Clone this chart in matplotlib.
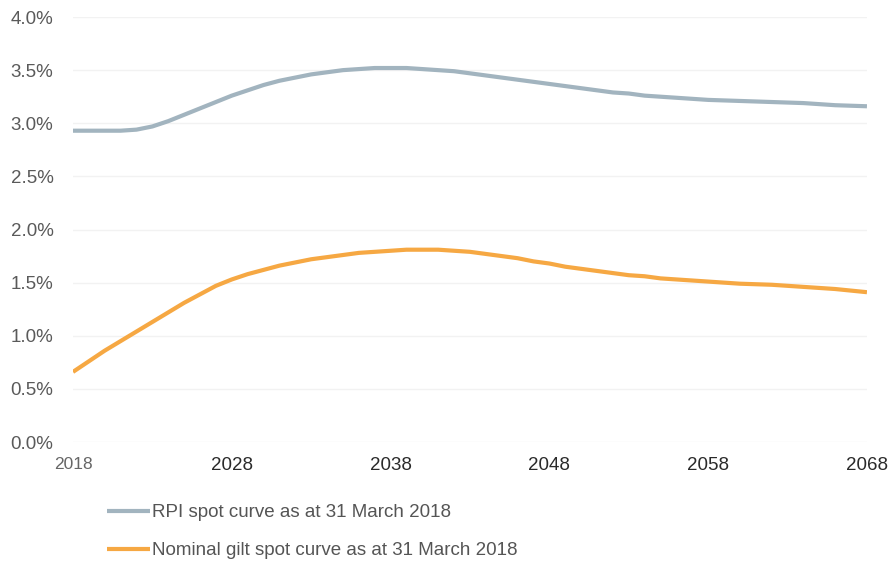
import matplotlib
matplotlib.use("Agg")
import matplotlib.pyplot as plt
from matplotlib.ticker import FuncFormatter

plt.rcParams['font.family'] = ['Liberation Sans', 'DejaVu Sans']

years = list(range(2018, 2069))
rpi = [2.93, 2.93, 2.93, 2.93, 2.94, 2.97, 3.02, 3.08, 3.14, 3.20,
       3.26, 3.31, 3.36, 3.40, 3.43, 3.46, 3.48, 3.50, 3.51, 3.52,
       3.52, 3.52, 3.51, 3.50, 3.49, 3.47, 3.45, 3.43, 3.41, 3.39,
       3.37, 3.35, 3.33, 3.31, 3.29, 3.28, 3.26, 3.25, 3.24, 3.23,
       3.22, 3.215, 3.21, 3.205, 3.20, 3.195, 3.19, 3.18, 3.17, 3.165,
       3.16]
nominal = [0.66, 0.76, 0.86, 0.95, 1.04, 1.13, 1.22, 1.31, 1.39, 1.47,
           1.53, 1.58, 1.62, 1.66, 1.69, 1.72, 1.74, 1.76, 1.78, 1.79,
           1.80, 1.81, 1.81, 1.81, 1.80, 1.79, 1.77, 1.75, 1.73, 1.70,
           1.68, 1.65, 1.63, 1.61, 1.59, 1.57, 1.56, 1.54, 1.53, 1.52,
           1.51, 1.50, 1.49, 1.485, 1.48, 1.47, 1.46, 1.45, 1.44, 1.425,
           1.41]
xticks = [2018, 2028, 2038, 2048, 2058, 2068]
yticks = [0.0, 0.5, 1.0, 1.5, 2.0, 2.5, 3.0, 3.5, 4.0]
labels = ["RPI spot curve as at 31 March 2018", "Nominal gilt spot curve as at 31 March 2018"]

fig = plt.figure(figsize=(8.88, 5.71), dpi=100)
ax = fig.add_axes([0.0822, 0.2259, 0.8941, 0.7443])

ax.plot(years, rpi, color='#a2b4bf', lw=3.0, label=labels[0], solid_capstyle='butt')
ax.plot(years, nominal, color='#f6a843', lw=3.0, label=labels[1], solid_capstyle='butt')

ax.set_xlim(2018, 2068)
ax.set_ylim(0, 4.0)
ax.set_xticks(xticks)
ax.set_yticks(yticks)
ax.yaxis.set_major_formatter(FuncFormatter(lambda v, p: f"{v:.1f}%"))
for s in ax.spines.values():
    s.set_visible(False)
ax.grid(axis='y', color='#f2f2f2', lw=1)
ax.set_axisbelow(True)
ax.tick_params(axis='both', length=0, labelsize=13.5, labelcolor='#5a5a5a')
ax.tick_params(axis='x', pad=11, labelcolor='#2a2a2a')
ax.tick_params(axis='y', pad=14)
first = ax.get_xticklabels()[0]
first.set_color('#666666')
first.set_fontsize(12.5)

leg = fig.legend(loc='upper left', bbox_to_anchor=(0.1205, 0.117), frameon=False,
                 handlelength=2.3, handletextpad=0.1, labelspacing=1.1, fontsize=13.5,
                 borderaxespad=0, borderpad=0)
for t in leg.get_texts():
    t.set_color('#555555')

fig.savefig("out.png", dpi=100)
